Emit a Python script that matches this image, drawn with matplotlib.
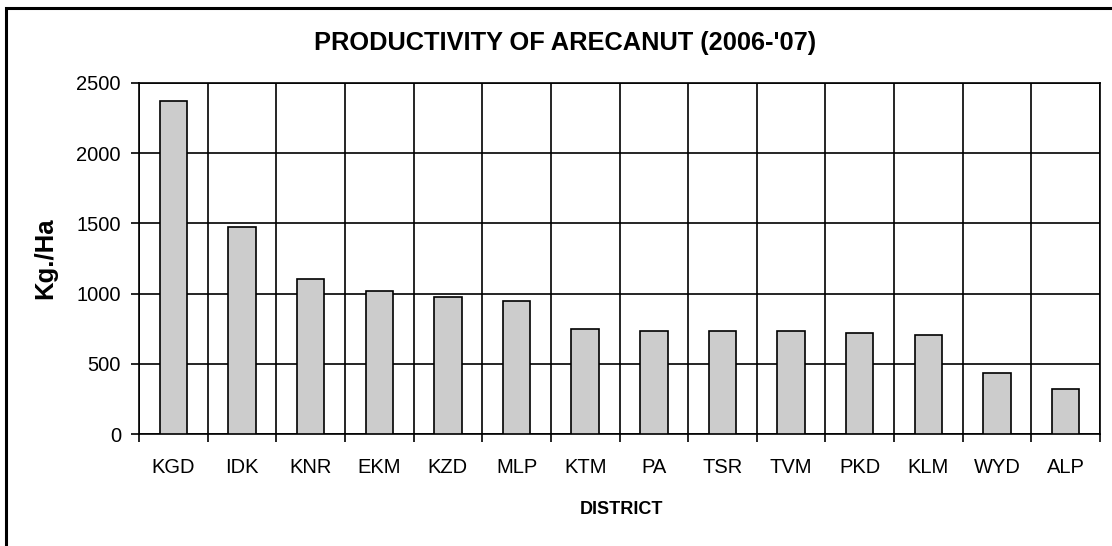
import matplotlib.pyplot as plt
from matplotlib.patches import Rectangle

plt.rcParams['font.family'] = ['Liberation Sans', 'DejaVu Sans']

# Data
districts = ['KGD', 'IDK', 'KNR', 'EKM', 'KZD', 'MLP', 'KTM',
             'PA', 'TSR', 'TVM', 'PKD', 'KLM', 'WYD', 'ALP']
productivity = [2372, 1475, 1105, 1020, 977, 949, 749,
                735, 735, 735, 721, 707, 436, 322]
yticks = [0, 500, 1000, 1500, 2000, 2500]

W, H = 1112, 546
fig = plt.figure(figsize=(W / 100, H / 100), dpi=100)
ax = fig.add_axes([139 / W, 112 / H, 961 / W, 351 / H])

x = list(range(len(districts)))
ax.bar(x, productivity, width=0.4, color='#cccccc', edgecolor='black',
       linewidth=1.2, zorder=3)

ax.set_xlim(-0.5, len(districts) - 0.5)
ax.set_ylim(0, 2500)
ax.set_yticks(yticks)
ax.set_xticks(x)
ax.set_xticklabels(districts)
ax.set_xticks([i - 0.5 for i in range(len(districts) + 1)], minor=True)

ax.grid(axis='y', color='black', linewidth=1.2, zorder=0)
ax.grid(axis='x', which='minor', color='black', linewidth=1.2, zorder=0)
ax.tick_params(axis='x', which='major', length=0, pad=17, labelsize=14.5)
ax.tick_params(axis='x', which='minor', length=6, width=1.2, direction='out')
ax.tick_params(axis='y', length=6, width=1.2, direction='out', pad=7,
               labelsize=14.5)
for s in ax.spines.values():
    s.set_linewidth(1.2)
    s.set_color('black')

fig.text(565 / W, 1 - 43 / H, "PRODUCTIVITY OF ARECANUT (2006-'07)",
         fontsize=18.3, fontweight='bold', ha='center', va='center')
ax.set_xlabel('DISTRICT', fontsize=13, fontweight='bold', va='center')
ax.xaxis.set_label_coords(0.5016, -0.2137)
ax.set_ylabel('Kg./Ha', fontsize=18.5, fontweight='bold', va='center')
ax.yaxis.set_label_coords(-0.0978, 0.5)

# outer chart border
fig.patches.append(Rectangle((6 / W, -0.1), 1.2, (H - 8) / H + 0.1,
                             transform=fig.transFigure, fill=False,
                             edgecolor='black', linewidth=2.2))

plt.savefig('out.png', dpi=100)
